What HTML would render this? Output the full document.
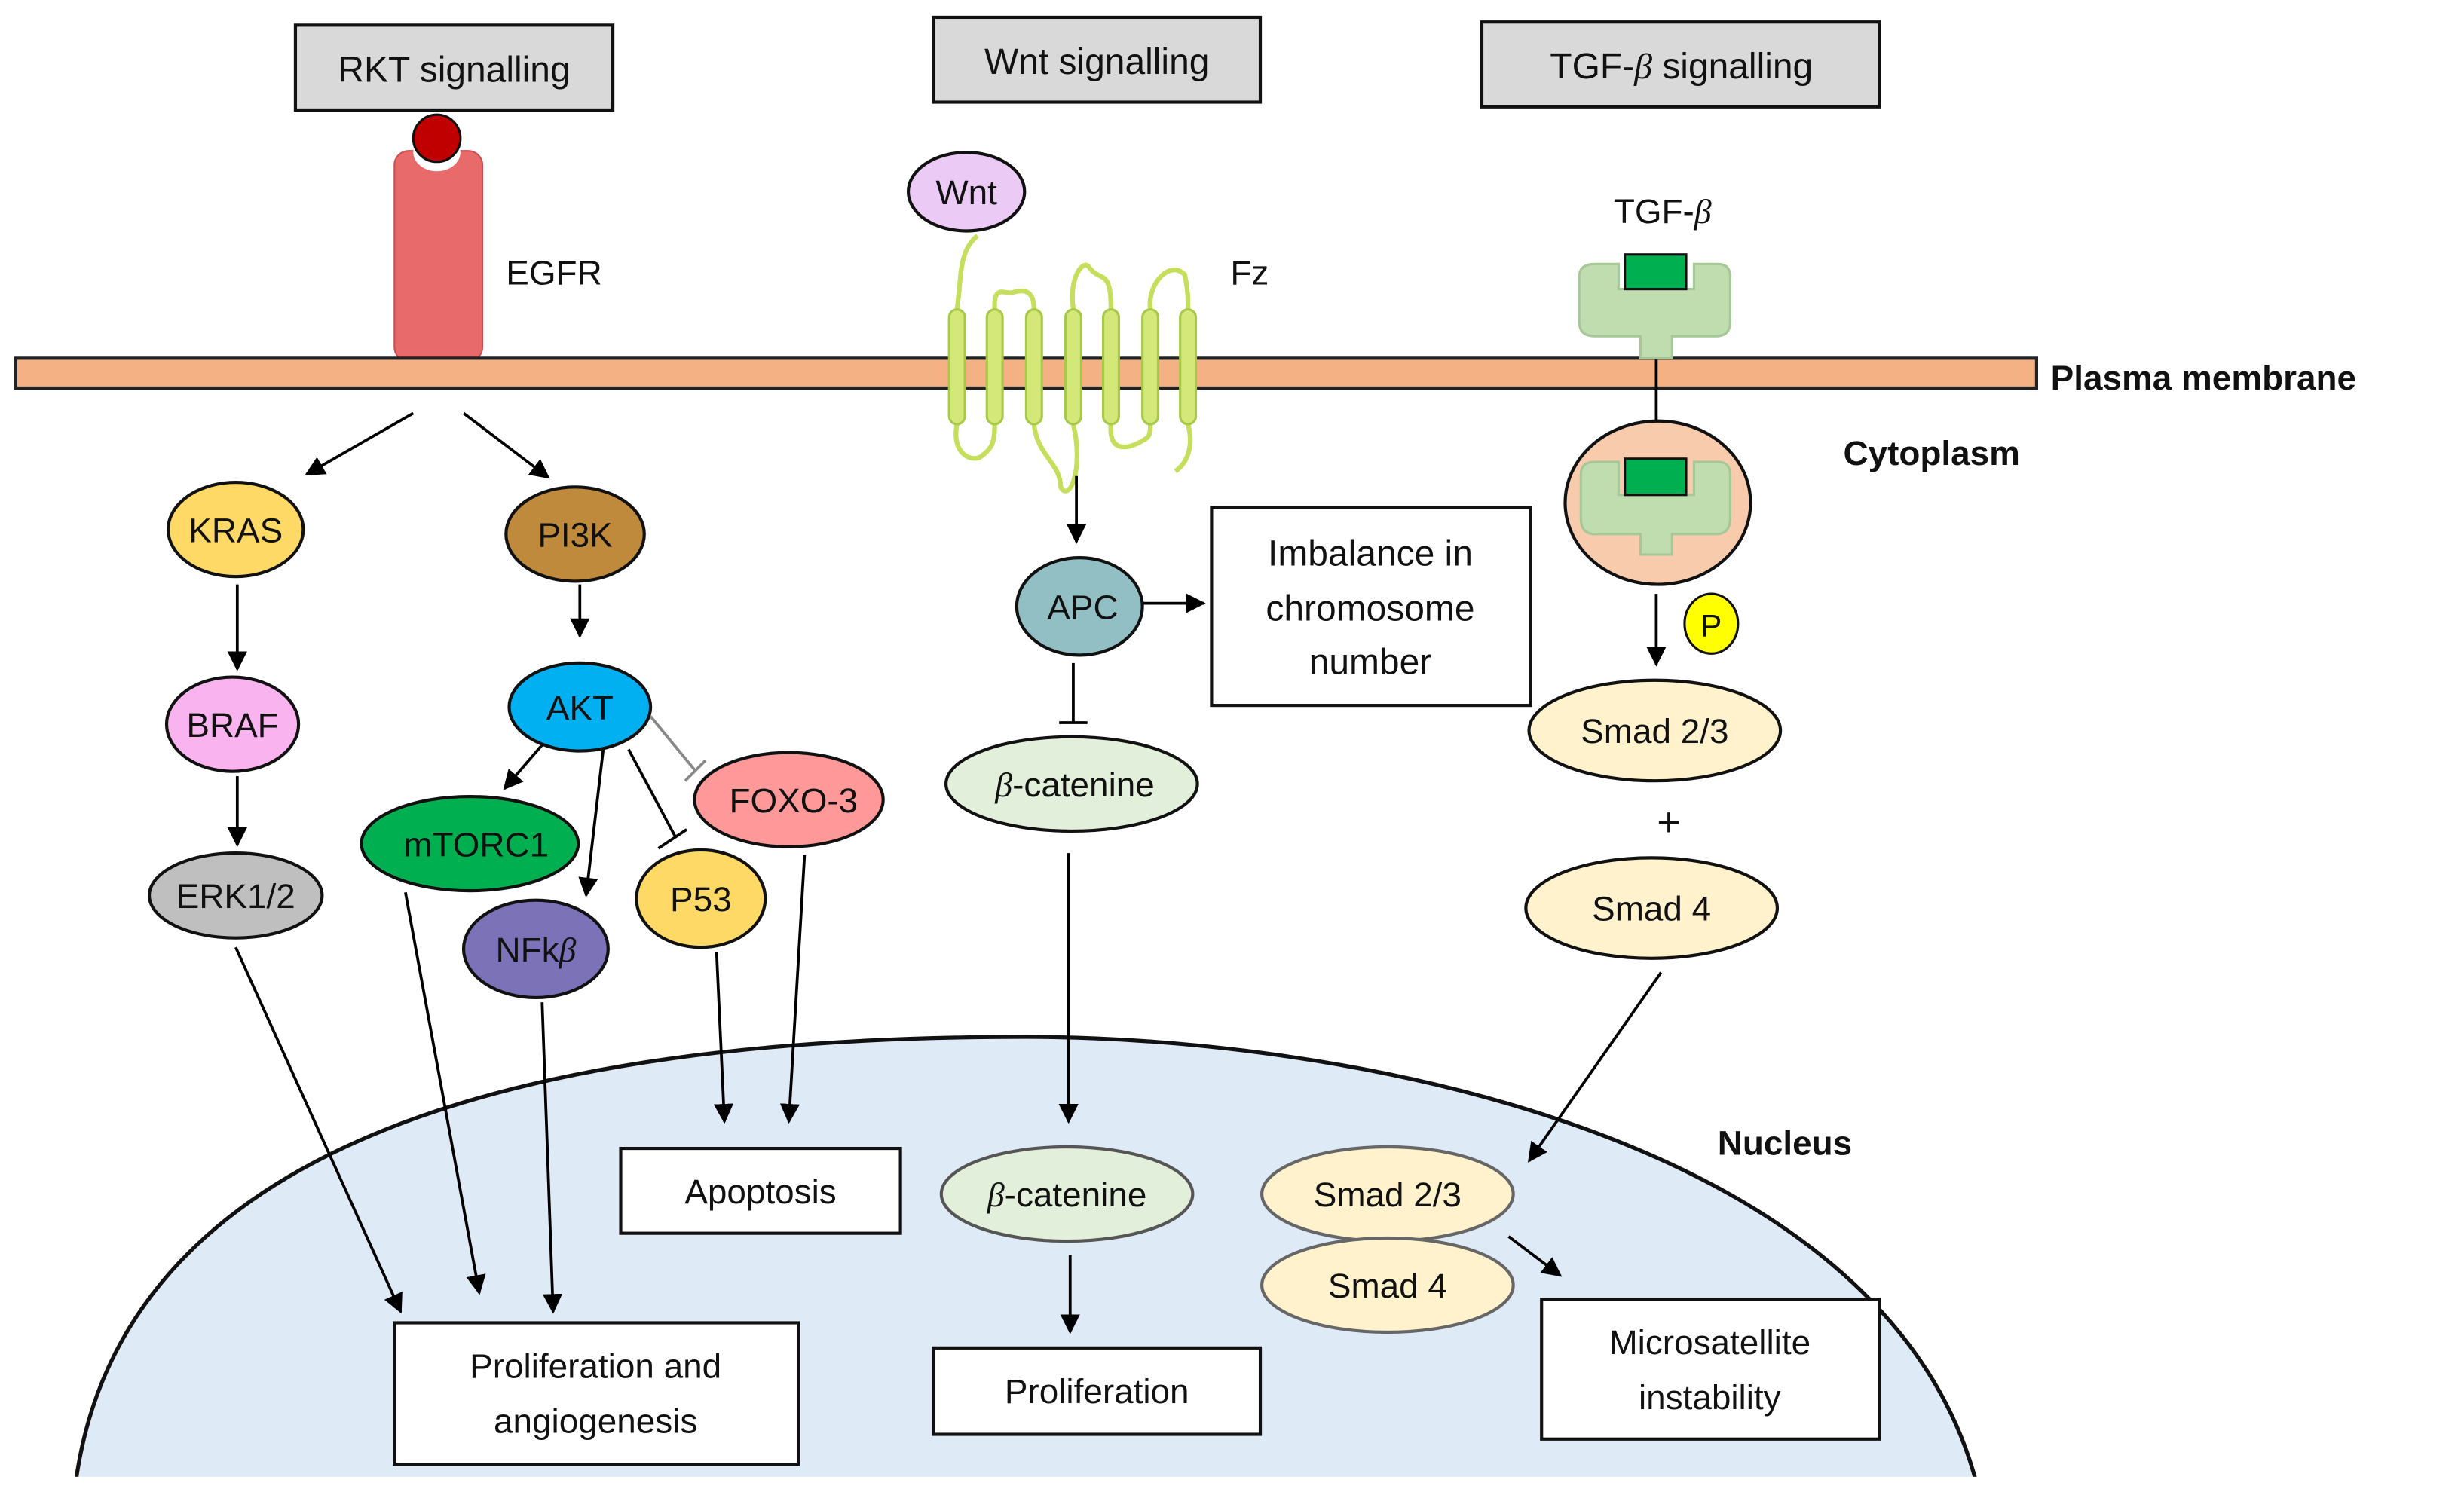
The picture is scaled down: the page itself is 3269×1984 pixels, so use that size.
<!DOCTYPE html>
<html><head><meta charset="utf-8"><style>
html,body{margin:0;padding:0;background:#fff;}
svg{display:block;}
text{font-family:"Liberation Sans",sans-serif;fill:#111;}
</style></head><body>
<svg width="3269" height="1984" viewBox="0 0 1568 951.6" preserveAspectRatio="none" xmlns="http://www.w3.org/2000/svg">
<defs>
<marker id="a" viewBox="0 0 10 10" refX="9" refY="5" markerWidth="7" markerHeight="7" orient="auto-start-reverse"><path d="M0,0 L10,5 L0,10 z" fill="#000"/></marker>
</defs>
<rect width="1568" height="952" fill="#fff"/>
<!-- nucleus -->
<path d="M48 945 C80 700 400 660 653 660 C850 660 1200 720 1258 945 Z" fill="#DEEBF7" stroke="#111" stroke-width="2.5"/>
<rect x="0" y="940" width="1568" height="12" fill="#fff"/>

<!-- title boxes -->
<g font-size="23" text-anchor="middle">
<rect x="188" y="16" width="202" height="54" fill="#D9D9D9" stroke="#111" stroke-width="2"/>
<text x="289" y="52">RKT signalling</text>
<rect x="594" y="11" width="208" height="54" fill="#D9D9D9" stroke="#111" stroke-width="2"/>
<text x="698" y="47">Wnt signalling</text>
<rect x="943" y="14" width="253" height="54" fill="#D9D9D9" stroke="#111" stroke-width="2"/>
<text x="1070" y="50">TGF-<tspan font-style="italic" font-family="Liberation Serif">β</tspan> signalling</text>
</g>

<!-- EGFR -->
<rect x="251" y="96" width="56" height="134" rx="9" fill="#E86A6A" stroke="#C85050" stroke-width="1"/>
<ellipse cx="278" cy="97" rx="15" ry="12" fill="#fff"/>
<ellipse cx="278" cy="88" rx="15" ry="15" fill="#C00000" stroke="#111" stroke-width="1.5"/>
<text x="322" y="181" font-size="22">EGFR</text>

<!-- membrane -->
<rect x="10" y="228" width="1286" height="19" fill="#F4B183" stroke="#222" stroke-width="2"/>
<text x="1305" y="248" font-size="22" font-weight="bold">Plasma membrane</text>
<text x="1173" y="296" font-size="22" font-weight="bold">Cytoplasm</text>
<text x="1093" y="735" font-size="22" font-weight="bold">Nucleus</text>

<!-- Wnt / Fz -->
<ellipse cx="615" cy="122" rx="37" ry="25" fill="#EBCBF5" stroke="#111" stroke-width="2"/>
<text x="615" y="130" font-size="22" text-anchor="middle">Wnt</text>
<g fill="none" stroke="#C5DE5C" stroke-width="3">
<path d="M622 150 C610 160 612 175 609 197"/>
<path d="M633 197 C632 180 640 188 645 186 C652 184 658 185 658 197"/>
<path d="M683 197 C680 175 690 165 693 170 C700 180 707 170 707 197"/>
<path d="M732 197 C730 180 745 165 754 175 C756 185 756 190 756 197"/>
<path d="M609 270 C605 290 620 295 625 290 C632 285 633 280 633 270"/>
<path d="M658 270 C660 290 675 295 675 310 C680 320 690 300 683 270"/>
<path d="M707 270 C705 290 720 285 728 280 C732 278 732 275 732 270"/>
<path d="M756 270 C760 285 755 295 748 300"/>
</g>
<g fill="#D4E87A" stroke="#A8C84A" stroke-width="1.5">
<rect x="604" y="197" width="10" height="73" rx="5"/>
<rect x="628" y="197" width="10" height="73" rx="5"/>
<rect x="653" y="197" width="10" height="73" rx="5"/>
<rect x="678" y="197" width="10" height="73" rx="5"/>
<rect x="702" y="197" width="10" height="73" rx="5"/>
<rect x="727" y="197" width="10" height="73" rx="5"/>
<rect x="751" y="197" width="10" height="73" rx="5"/>
</g>
<text x="783" y="181" font-size="22">Fz</text>

<!-- TGF receptor -->
<text x="1058" y="142" font-size="22" text-anchor="middle">TGF-<tspan font-style="italic" font-family="Liberation Serif">β</tspan></text>
<path d="M1005 176 Q1005 168 1015 168 L1030 168 L1030 184 L1078 184 L1078 168 L1093 168 Q1101 168 1101 176 L1101 205 Q1101 214 1092 214 L1064 214 L1064 228 L1044 228 L1044 214 L1015 214 Q1005 214 1005 205 Z" fill="#C0DDB0" stroke="#A6C898" stroke-width="1.5"/>
<rect x="1034" y="162" width="39" height="22" fill="#00B050" stroke="#111" stroke-width="1.5"/>
<line x1="1054" y1="229" x2="1054" y2="283" stroke="#000" stroke-width="1.8" marker-end="url(#a)"/>
<ellipse cx="1055" cy="320" rx="59" ry="52" fill="#F8CBAD" stroke="#111" stroke-width="2"/>
<path d="M1006 302 Q1006 294 1015 294 L1030 294 L1030 315 L1078 315 L1078 294 L1093 294 Q1101 294 1101 302 L1101 330 Q1101 340 1092 340 L1064 340 L1064 353 L1044 353 L1044 340 L1015 340 Q1006 340 1006 330 Z" fill="#C0DDB0" stroke="#A6C898" stroke-width="1.5"/>
<rect x="1034" y="292" width="39" height="23" fill="#00B050" stroke="#111" stroke-width="1.5"/>
<line x1="1054" y1="378" x2="1054" y2="423" stroke="#000" stroke-width="1.8" marker-end="url(#a)"/>
<ellipse cx="1089" cy="397" rx="17" ry="19" fill="#FFFF00" stroke="#111" stroke-width="1.5"/>
<text x="1089" y="405" font-size="20" text-anchor="middle">P</text>

<g font-size="22" text-anchor="middle">
<ellipse cx="1053" cy="465" rx="80" ry="32" fill="#FFF2CC" stroke="#111" stroke-width="2"/>
<text x="1053" y="473">Smad 2/3</text>
<text x="1062" y="532" font-size="26">+</text>
<ellipse cx="1051" cy="578" rx="80" ry="32" fill="#FFF2CC" stroke="#111" stroke-width="2"/>
<text x="1051" y="586">Smad 4</text>
</g>

<!-- Imbalance box -->
<rect x="771" y="323" width="203" height="126" fill="#fff" stroke="#111" stroke-width="2"/>
<g font-size="23" text-anchor="middle">
<text x="872" y="360">Imbalance in</text>
<text x="872" y="395">chromosome</text>
<text x="872" y="429">number</text>
</g>

<!-- connectors -->
<g stroke="#000" stroke-width="1.8" fill="none">
<line x1="263" y1="263" x2="195" y2="302" marker-end="url(#a)"/>
<line x1="295" y1="263" x2="349" y2="304" marker-end="url(#a)"/>
<line x1="151" y1="372" x2="151" y2="426" marker-end="url(#a)"/>
<line x1="151" y1="494" x2="151" y2="538" marker-end="url(#a)"/>
<line x1="369" y1="372" x2="369" y2="405" marker-end="url(#a)"/>
<line x1="346" y1="473" x2="321" y2="502" marker-end="url(#a)"/>
<line x1="384" y1="476" x2="373" y2="570" marker-end="url(#a)"/>
<line x1="400" y1="477" x2="430" y2="533"/>
<line x1="419" y1="540" x2="437" y2="528"/>
<line x1="414" y1="456" x2="442" y2="490" stroke="#888"/>
<line x1="436" y1="497" x2="449" y2="484" stroke="#888"/>
<line x1="150" y1="603" x2="255" y2="835" marker-end="url(#a)"/>
<line x1="258" y1="568" x2="305" y2="823" marker-end="url(#a)"/>
<line x1="345" y1="638" x2="352" y2="835" marker-end="url(#a)"/>
<line x1="456" y1="606" x2="461" y2="714" marker-end="url(#a)"/>
<line x1="512" y1="544" x2="502" y2="714" marker-end="url(#a)"/>
<line x1="685" y1="303" x2="685" y2="345" marker-end="url(#a)"/>
<line x1="726" y1="384" x2="766" y2="384" marker-end="url(#a)"/>
<line x1="683" y1="422" x2="683" y2="460"/>
<line x1="674" y1="460" x2="692" y2="460"/>
<line x1="680" y1="543" x2="680" y2="714" marker-end="url(#a)"/>
<line x1="681" y1="799" x2="681" y2="848" marker-end="url(#a)"/>
<line x1="1057" y1="619" x2="973" y2="739" marker-end="url(#a)"/>
<line x1="960" y1="787" x2="993" y2="812" marker-end="url(#a)"/>
</g>

<g font-size="22" text-anchor="middle" stroke-width="2">
<ellipse cx="150" cy="337" rx="43" ry="30" fill="#FFD966" stroke="#111" stroke-width="2"/>
<text x="150" y="345">KRAS</text>
<ellipse cx="366" cy="340" rx="44" ry="30" fill="#BF8A3C" stroke="#111" stroke-width="2"/>
<text x="366" y="348">PI3K</text>
<ellipse cx="148" cy="461" rx="42" ry="30" fill="#F9B4F0" stroke="#111" stroke-width="2"/>
<text x="148" y="469">BRAF</text>
<ellipse cx="150" cy="570" rx="55" ry="27" fill="#BFBFBF" stroke="#111" stroke-width="2"/>
<text x="150" y="578">ERK1/2</text>
<ellipse cx="369" cy="450" rx="45" ry="28" fill="#00B0F0" stroke="#111" stroke-width="2"/>
<text x="369" y="458">AKT</text>
<ellipse cx="299" cy="537" rx="69" ry="30" fill="#00B050" stroke="#111" stroke-width="2"/>
<text x="303" y="545">mTORC1</text>
<ellipse cx="341" cy="604" rx="46" ry="31" fill="#7B72B8" stroke="#111" stroke-width="2"/>
<text x="341" y="612">NFk<tspan font-style="italic" font-family="Liberation Serif">β</tspan></text>
<ellipse cx="446" cy="572" rx="41" ry="31" fill="#FFD966" stroke="#111" stroke-width="2"/>
<text x="446" y="580">P53</text>
<ellipse cx="502" cy="509" rx="60" ry="30" fill="#FF9999" stroke="#111" stroke-width="2"/>
<text x="505" y="517">FOXO-3</text>
<ellipse cx="687" cy="386" rx="40" ry="31" fill="#92BFC4" stroke="#111" stroke-width="2"/>
<text x="689" y="394">APC</text>
<ellipse cx="682" cy="499" rx="80" ry="30" fill="#E2EFDA" stroke="#111" stroke-width="2"/>
<text x="684" y="507"><tspan font-style="italic" font-family="Liberation Serif">β</tspan>-catenine</text>
<ellipse cx="679" cy="760" rx="80" ry="30" fill="#E2EFDA" stroke="#555" stroke-width="2"/>
<text x="679" y="768"><tspan font-style="italic" font-family="Liberation Serif">β</tspan>-catenine</text>
<ellipse cx="883" cy="760" rx="80" ry="30" fill="#FFF2CC" stroke="#666" stroke-width="2"/>
<text x="883" y="768">Smad 2/3</text>
<ellipse cx="883" cy="818" rx="80" ry="30" fill="#FFF2CC" stroke="#666" stroke-width="2"/>
<text x="883" y="826">Smad 4</text>

<rect x="395" y="731" width="178" height="54" fill="#fff" stroke="#111"/>
<text x="484" y="766">Apoptosis</text>
<rect x="594" y="858" width="208" height="55" fill="#fff" stroke="#111"/>
<text x="698" y="893">Proliferation</text>
<rect x="251" y="842" width="257" height="90" fill="#fff" stroke="#111"/>
<text x="379" y="877">Proliferation and</text>
<text x="379" y="912">angiogenesis</text>
<rect x="981" y="827" width="215" height="89" fill="#fff" stroke="#111"/>
<text x="1088" y="862">Microsatellite</text>
<text x="1088" y="897">instability</text>
</g>
</svg>
</body></html>
